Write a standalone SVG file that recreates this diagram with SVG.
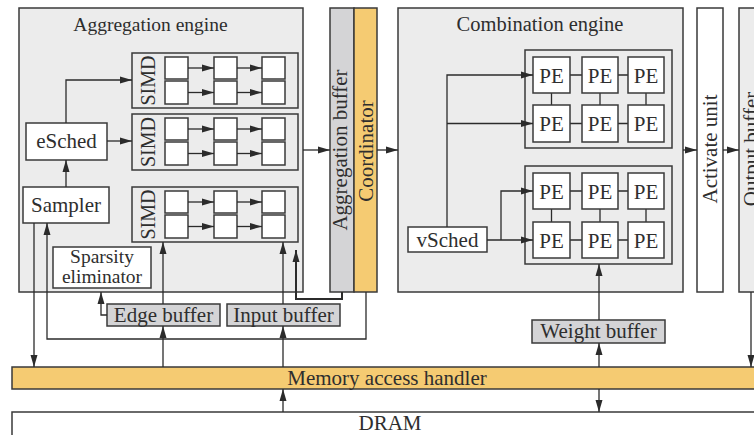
<svg xmlns="http://www.w3.org/2000/svg" width="754" height="435" viewBox="0 0 754 435" font-family="'Liberation Serif', 'Times New Roman', serif">
  <defs>
    <marker id="arr" viewBox="0 0 12 8" refX="12" refY="4" markerWidth="12" markerHeight="8" markerUnits="userSpaceOnUse" orient="auto">
      <path d="M0,0.5 L12,4 L0,7.5 z" fill="#2b2b2b"/>
    </marker>
  </defs>
  <style>
    text { font-family: "Liberation Serif", "Times New Roman", serif; fill: #2e2e2e; font-size: 21px; }
    .mid { text-anchor: middle; }
    .engine { fill: #ececec; stroke: #3a3a3a; stroke-width: 1.5; }
    .box { fill: #ffffff; stroke: #3a3a3a; stroke-width: 1.5; }
    .group { fill: none; stroke: #3a3a3a; stroke-width: 1.5; }
    .buf { fill: #d4d4d6; stroke: #3a3a3a; stroke-width: 1.5; }
    .hl { fill: #f5cb72; stroke: #3a3a3a; stroke-width: 1.5; }
    .wire { fill: none; stroke: #2b2b2b; stroke-width: 1.3; }
    .thick { fill: none; stroke: #2b2b2b; stroke-width: 2; }
    .arrow { marker-end: url(#arr); }
  </style>

  <!-- Aggregation engine -->
  <g id="aggregation-engine">
    <rect class="engine" x="19" y="8" width="284" height="284"/>
    <text class="mid" x="150.5" y="31" style="font-size:19.5px">Aggregation engine</text>
  </g>

  <g id="esched">
    <rect class="box" x="26" y="123" width="81" height="37"/>
    <text class="mid" x="66.5" y="148">eSched</text>
  </g>

  <g id="sampler">
    <rect class="box" x="23" y="187" width="86" height="36"/>
    <text class="mid" x="66" y="212">Sampler</text>
  </g>

  <g id="sparsity-eliminator">
    <rect class="box" x="53" y="247" width="98" height="41"/>
    <text class="mid" x="102" y="263" style="font-size:19.5px">Sparsity</text>
    <text class="mid" x="102" y="283" style="font-size:19.5px">eliminator</text>
  </g>

  <!-- SIMD lanes: each a 2x3 array of cells -->
  <g id="simd-1">
    <rect class="group" x="132" y="53" width="166" height="55"/>
    <text class="mid" transform="translate(155,80.5) rotate(-90)" x="0" y="0" style="font-size:20px">SIMD</text>
    <rect class="box" x="165" y="57" width="23" height="22"/>
    <rect class="box" x="214" y="57" width="23" height="22"/>
    <rect class="box" x="262" y="57" width="23" height="22"/>
    <rect class="box" x="165" y="81" width="23" height="23"/>
    <rect class="box" x="214" y="81" width="23" height="23"/>
    <rect class="box" x="262" y="81" width="23" height="23"/>
  </g>
  <g id="simd-2">
    <rect class="group" x="132" y="114" width="166" height="56"/>
    <text class="mid" transform="translate(155,142) rotate(-90)" x="0" y="0" style="font-size:20px">SIMD</text>
    <rect class="box" x="165" y="118" width="23" height="22"/>
    <rect class="box" x="214" y="118" width="23" height="22"/>
    <rect class="box" x="262" y="118" width="23" height="22"/>
    <rect class="box" x="165" y="142" width="23" height="23"/>
    <rect class="box" x="214" y="142" width="23" height="23"/>
    <rect class="box" x="262" y="142" width="23" height="23"/>
  </g>
  <g id="simd-3">
    <rect class="group" x="132" y="187" width="166" height="55"/>
    <text class="mid" transform="translate(155,214.5) rotate(-90)" x="0" y="0" style="font-size:20px">SIMD</text>
    <rect class="box" x="165" y="191" width="23" height="22"/>
    <rect class="box" x="214" y="191" width="23" height="22"/>
    <rect class="box" x="262" y="191" width="23" height="22"/>
    <rect class="box" x="165" y="215" width="23" height="23"/>
    <rect class="box" x="214" y="215" width="23" height="23"/>
    <rect class="box" x="262" y="215" width="23" height="23"/>
  </g>

  <g id="aggregation-buffer">
    <rect class="buf" x="330" y="8" width="24" height="284"/>
    <text class="mid" transform="translate(347,150) rotate(-90)" x="0" y="0">Aggregation buffer</text>
  </g>
  <g id="coordinator">
    <rect class="hl" x="354" y="8" width="23" height="284"/>
    <text class="mid" transform="translate(373,151) rotate(-90)" x="0" y="0">Coordinator</text>
  </g>

  <!-- Combination engine -->
  <g id="combination-engine">
    <rect class="engine" x="398" y="8" width="285" height="284"/>
    <text class="mid" x="540" y="31" style="font-size:20.5px">Combination engine</text>
  </g>

  <g id="vsched">
    <rect class="box" x="408" y="227" width="79" height="25"/>
    <text class="mid" x="447.5" y="247">vSched</text>
  </g>

  <g id="pe-array-1">
    <rect class="group" x="525" y="50" width="147" height="98"/>
    <path class="wire" d="M570,75 H582 M618,75 H628 M570,123.5 H582 M618,123.5 H628 M551.5,93 V105 M600,93 V105 M646,93 V105"/>
    <rect class="box" x="533" y="57" width="37" height="36"/>
    <rect class="box" x="582" y="57" width="36" height="36"/>
    <rect class="box" x="628" y="57" width="36" height="36"/>
    <rect class="box" x="533" y="105" width="37" height="37"/>
    <rect class="box" x="582" y="105" width="36" height="37"/>
    <rect class="box" x="628" y="105" width="36" height="37"/>
    <text class="mid" x="551.5" y="83">PE</text>
    <text class="mid" x="600" y="83">PE</text>
    <text class="mid" x="646" y="83">PE</text>
    <text class="mid" x="551.5" y="131">PE</text>
    <text class="mid" x="600" y="131">PE</text>
    <text class="mid" x="646" y="131">PE</text>
  </g>

  <g id="pe-array-2">
    <rect class="group" x="525" y="166" width="147" height="98"/>
    <path class="wire" d="M570,191 H582 M618,191 H628 M570,240 H582 M618,240 H628 M551.5,209 V222 M600,209 V222 M646,209 V222"/>
    <rect class="box" x="533" y="173" width="37" height="36"/>
    <rect class="box" x="582" y="173" width="36" height="36"/>
    <rect class="box" x="628" y="173" width="36" height="36"/>
    <rect class="box" x="533" y="222" width="37" height="36"/>
    <rect class="box" x="582" y="222" width="36" height="36"/>
    <rect class="box" x="628" y="222" width="36" height="36"/>
    <text class="mid" x="551.5" y="199">PE</text>
    <text class="mid" x="600" y="199">PE</text>
    <text class="mid" x="646" y="199">PE</text>
    <text class="mid" x="551.5" y="248">PE</text>
    <text class="mid" x="600" y="248">PE</text>
    <text class="mid" x="646" y="248">PE</text>
  </g>

  <g id="activate-unit">
    <rect class="box" x="697" y="8" width="26" height="284"/>
    <text class="mid" transform="translate(717,149) rotate(-90)" x="0" y="0">Activate unit</text>
  </g>
  <g id="output-buffer">
    <rect class="engine" x="739" y="8" width="30" height="284"/>
    <text class="mid" transform="translate(758,149) rotate(-90)" x="0" y="0">Output buffer</text>
  </g>

  <!-- Buffers -->
  <g id="edge-buffer">
    <rect class="buf" x="107" y="304" width="113" height="22"/>
    <text class="mid" x="163.5" y="322">Edge buffer</text>
  </g>
  <g id="input-buffer">
    <rect class="buf" x="227" y="304" width="113" height="22"/>
    <text class="mid" x="283.5" y="322">Input buffer</text>
  </g>
  <g id="weight-buffer">
    <rect class="buf" x="532" y="320" width="133" height="23"/>
    <text class="mid" x="598.5" y="338">Weight buffer</text>
  </g>

  <g id="memory-access-handler">
    <rect class="hl" x="12" y="367" width="760" height="22"/>
    <text class="mid" x="387" y="385">Memory access handler</text>
  </g>
  <g id="dram">
    <rect class="box" x="12" y="412" width="760" height="30"/>
    <text class="mid" x="390" y="430">DRAM</text>
  </g>

  <!-- Connectors -->
  <g id="connectors">
    <!-- SIMD cell pipelines -->
    <path class="wire arrow" d="M188,68 H214"/>
    <path class="wire arrow" d="M237,68 H262"/>
    <path class="wire arrow" d="M188,92.5 H214"/>
    <path class="wire arrow" d="M237,92.5 H262"/>
    <path class="wire arrow" d="M188,129 H214"/>
    <path class="wire arrow" d="M237,129 H262"/>
    <path class="wire arrow" d="M188,153.5 H214"/>
    <path class="wire arrow" d="M237,153.5 H262"/>
    <path class="wire arrow" d="M188,202 H214"/>
    <path class="wire arrow" d="M237,202 H262"/>
    <path class="wire arrow" d="M188,226.5 H214"/>
    <path class="wire arrow" d="M237,226.5 H262"/>

    <!-- scheduling -->
    <path class="wire arrow" d="M66,123 V80 H132"/>
    <path class="wire arrow" d="M107,141 H132"/>
    <path class="wire arrow" d="M66,187 V160"/>

    <!-- engines to buffers -->
    <path class="wire arrow" d="M303,150 H330"/>
    <path class="wire arrow" d="M377,150 H398"/>
    <path class="wire arrow" d="M683,150 H697"/>
    <path class="wire arrow" d="M723,150 H739"/>

    <!-- vSched fan-out -->
    <path class="wire arrow" d="M447,227 V75 H533"/>
    <path class="wire arrow" d="M447,123.5 H533"/>
    <path class="wire arrow" d="M487,240 H533"/>
    <path class="wire arrow" d="M501,240 V191 H533"/>

    <!-- buffer feeds into the aggregation engine -->
    <path class="wire arrow" d="M163,304 V242"/>
    <path class="wire arrow" d="M283,304 V242"/>
    <path class="wire arrow" d="M107,315 H101 V292"/>
    <path class="thick arrow" d="M342,292 V299 H296 V250"/>
    <path class="wire arrow" d="M366,292 V339 H47 V223"/>

    <!-- memory side -->
    <path class="wire arrow" d="M34,223 V367"/>
    <path class="wire arrow" d="M163,367 V326"/>
    <path class="wire arrow" d="M283,367 V326"/>
    <path class="wire arrow" d="M283,412 V389"/>
    <path class="wire arrow" d="M599,367 V343"/>
    <path class="wire arrow" d="M599,320 V264"/>
    <path class="wire arrow" d="M599,389 V412"/>
    <path class="wire arrow" d="M751,292 V367"/>
  </g>
</svg>
